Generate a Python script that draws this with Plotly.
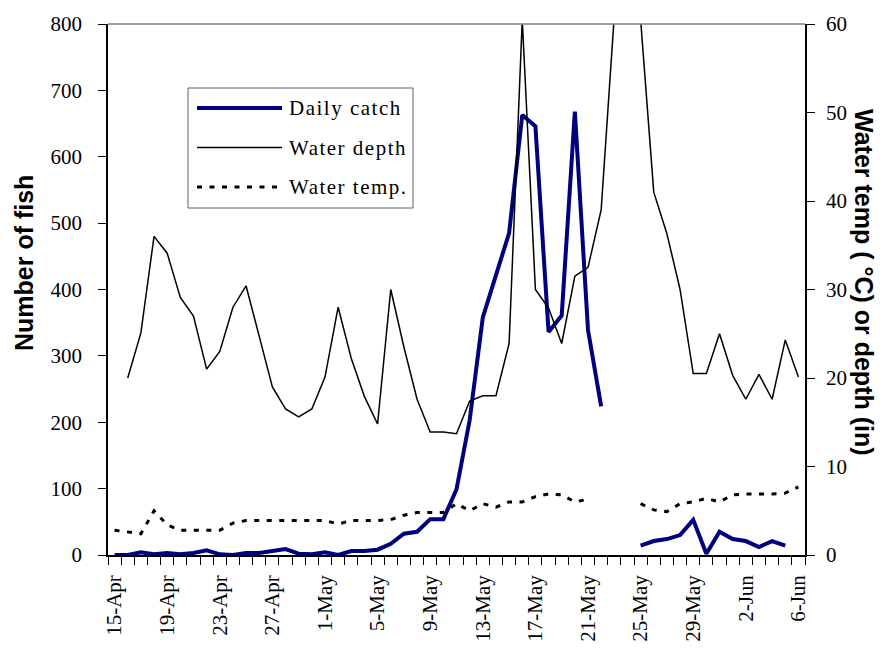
import pandas as pd
import plotly.graph_objects as go

# One category per day, 15 April to 6 June
dates = pd.date_range("2000-04-15", "2000-06-06", freq="D")
tick_dates = dates[::4]
tick_labels = [f"{d.day}-{d:%b}" for d in tick_dates]

# Number of fish caught per day (gaps are days without trapping)
daily_catch = [0, 0, 4, 1, 3, 1, 3, 7, 1, 0,
               3, 3, 6, 9, 2, 1, 4, 0, 6, 6,
               8, 17, 32, 35, 54, 54, 99, 203, 358, 422,
               485, 663, 646, 336, 361, 668, 339, 224, None, None,
               14, 21, 24, 30, 53, 2, 35, 24, 21, 12,
               21, 14, None]

# Water depth (in)
water_depth = [None, 20.0, 25.1, 36.0, 34.1, 29.1, 27.0, 21.0, 23.0, 28.0,
               30.4, 24.7, 19.0, 16.5, 15.6, 16.5, 20.1, 28.0, 22.2, 17.9,
               14.8, 30.0, 23.5, 17.6, 13.9, 13.9, 13.7, 17.4, 18.0, 18.0,
               23.9, 60.5, 30.0, 27.9, 23.9, 31.5, 32.5, 39.0, 61.0, 70.0,
               60.5, 41.0, 36.3, 30.0, 20.5, 20.5, 25.0, 20.3, 17.6, 20.4,
               17.6, 24.3, 20.1]

# Water temperature (deg C)
water_temp = [2.8, 2.6, 2.4, 5.0, 3.4, 2.8, 2.8, 2.8, 2.8, 3.6,
              3.9, 3.9, 3.9, 3.9, 3.9, 3.9, 3.9, 3.5, 3.9, 3.9,
              3.9, 4.0, 4.5, 4.8, 4.8, 4.8, 5.8, 5.0, 5.8, 5.4,
              6.0, 6.0, 6.6, 6.9, 6.8, 6.0, 6.3, None, None, None,
              5.8, 5.1, 4.9, 5.8, 6.0, 6.4, 6.0, 6.8, 6.9, 6.9,
              6.9, 7.0, 7.7]

fish_ticks = list(range(0, 801, 100))
env_ticks = list(range(0, 61, 10))

series_names = ["Daily catch", "Water depth", "Water temp."]
left_title = "Number of fish"
right_title = "Water temp ( °C) or depth (in)"

NAVY = "#000080"
serif = "Liberation Serif"
sans = "Liberation Sans"

half_day = pd.Timedelta(hours=12)
x_range = [dates[0] - half_day, dates[-1] + half_day]
day_edges = list(dates - half_day) + [dates[-1] + half_day]

W, H = 888, 653
ML, MR, MT, MB = 108, 83, 24, 98
PW, PH = W - ML - MR, H - MT - MB


def px_x(px):
    return (px - ML) / PW


def px_y(py):
    return (H - MB - py) / PH


fig = go.Figure()
fig.add_trace(go.Scatter(x=dates, y=daily_catch, mode="lines", name=series_names[0],
                         line=dict(color=NAVY, width=4), connectgaps=False,
                         showlegend=False))
fig.add_trace(go.Scatter(x=dates, y=water_depth, mode="lines", name=series_names[1],
                         line=dict(color="black", width=1.5), yaxis="y2",
                         showlegend=False))
fig.add_trace(go.Scatter(x=dates, y=water_temp, mode="lines", name=series_names[2],
                         line=dict(color="black", width=3, dash="5px,7.5px"),
                         yaxis="y2", showlegend=False))

tick_font = dict(family=serif, size=21, color="black")

fig.update_layout(
    width=W, height=H,
    margin=dict(l=ML, r=MR, t=MT, b=MB),
    paper_bgcolor="white", plot_bgcolor="white",
    template="none",
    showlegend=False,
    font=dict(family=serif, size=21, color="black"),
    xaxis=dict(
        type="date", range=x_range,
        tickmode="array", tickvals=tick_dates, ticktext=tick_labels,
        tickangle=-90, ticks="", tickfont=tick_font,
        ticklabelstandoff=10,
        showline=True, linecolor="black", linewidth=1.5,
        showgrid=False, zeroline=False,
        minor=dict(tickmode="array", tickvals=day_edges, ticks="outside",
                   ticklen=8, tickwidth=1.2, tickcolor="black", showgrid=False),
    ),
    xaxis2=dict(
        type="date", range=x_range, overlaying="x", anchor="y",
        tickmode="array", tickvals=day_edges, ticks="inside", ticklen=8,
        tickwidth=1.2, tickcolor="black", showticklabels=False,
        showline=False, showgrid=False, zeroline=False,
    ),
    yaxis=dict(
        range=[0, 800], tickmode="array", tickvals=fish_ticks,
        ticks="outside", ticklen=8, tickwidth=1.2, tickcolor="black",
        tickfont=tick_font, ticklabelstandoff=12,
        showline=True, linecolor="black", linewidth=1.5,
        showgrid=False, zeroline=False,
    ),
    yaxis2=dict(
        range=[0, 60], overlaying="y", side="right", anchor="x",
        tickmode="array", tickvals=env_ticks,
        ticks="outside", ticklen=8, tickwidth=1.2, tickcolor="black",
        tickfont=tick_font, ticklabelstandoff=7,
        showline=True, linecolor="black", linewidth=1.5,
        showgrid=False, zeroline=False,
    ),
    yaxis3=dict(
        range=[0, 800], overlaying="y", side="left", anchor="x",
        tickmode="array", tickvals=fish_ticks, ticks="inside", ticklen=8,
        tickwidth=1.2, tickcolor="black", showticklabels=False,
        showline=False, showgrid=False, zeroline=False,
    ),
    yaxis4=dict(
        range=[0, 60], overlaying="y", side="right", anchor="x",
        tickmode="array", tickvals=env_ticks, ticks="inside", ticklen=8,
        tickwidth=1.2, tickcolor="black", showticklabels=False,
        showline=False, showgrid=False, zeroline=False,
    ),
)

title_font = dict(family=sans, size=25, color="black")
# Axis titles: left reads bottom to top, right reads top to bottom
fig.add_annotation(text=f"<b>{left_title}</b>", textangle=-90,
                   xref="paper", yref="paper", x=px_x(24), y=px_y(263),
                   xanchor="center", yanchor="middle",
                   showarrow=False, font=title_font)
fig.add_annotation(text=f"<b>{right_title}</b>", textangle=90,
                   xref="paper", yref="paper", x=px_x(864), y=px_y(282),
                   xanchor="center", yanchor="middle",
                   showarrow=False, font=title_font)

# Grey frame line along the top of the plot area
fig.add_shape(type="line", xref="paper", yref="paper", x0=0, x1=1, y0=1, y1=1,
              line=dict(color="#808080", width=1.5))

# Legend box with line samples
fig.add_shape(type="rect", xref="paper", yref="paper",
              x0=px_x(188), x1=px_x(413), y0=px_y(208), y1=px_y(88),
              line=dict(color="#606060", width=1), fillcolor="white")
legend_styles = [dict(color=NAVY, width=4),
                 dict(color="black", width=1.5),
                 dict(color="black", width=3, dash="5px,7.5px")]
for k, (name, style) in enumerate(zip(series_names, legend_styles)):
    yy = px_y(108 + 39.5 * k)
    fig.add_shape(type="line", xref="paper", yref="paper",
                  x0=px_x(197), x1=px_x(282), y0=yy, y1=yy, line=style)
    fig.add_annotation(text=f"<span style='letter-spacing:1.5px'>{name}</span>",
                       xref="paper", yref="paper",
                       x=px_x(287), y=yy, xanchor="left", yanchor="middle",
                       showarrow=False,
                       font=dict(family=serif, size=21, color="black"))

fig.write_html("out.html")
